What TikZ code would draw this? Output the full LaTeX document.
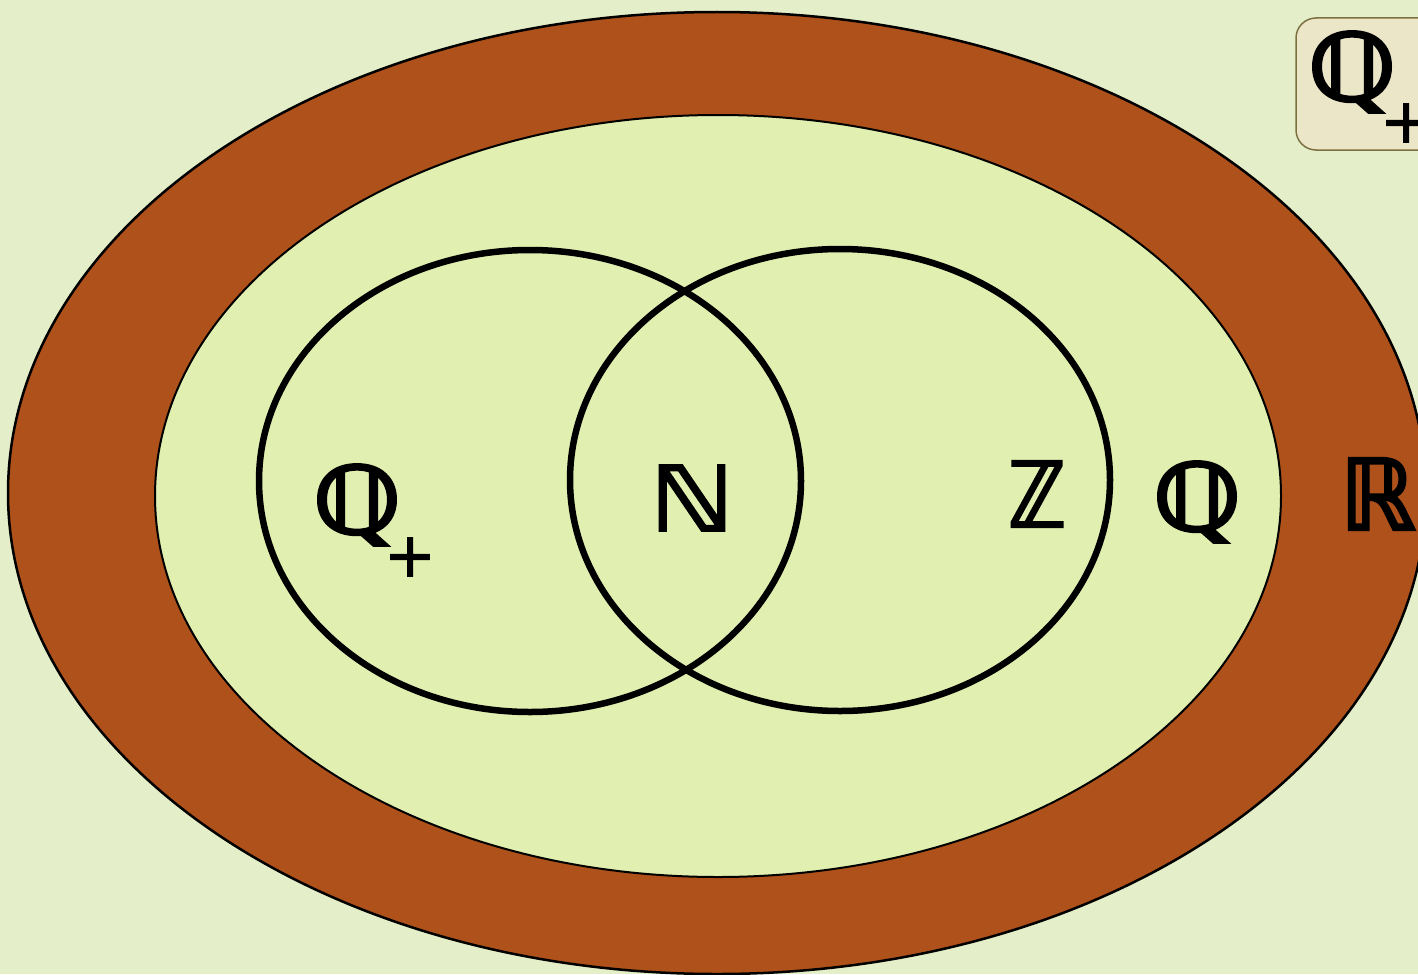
\documentclass[tikz,border=0pt]{standalone}
\usepackage{fontspec}
\usepackage{graphicx}
\setmainfont{DejaVu Sans}
\newfontfamily\bbfont[FakeBold=3]{DejaVu Sans}
\newfontfamily\plusfont[FakeBold=1.5]{DejaVu Sans}
\definecolor{bgc}{RGB}{228,239,201}
\definecolor{innerc}{RGB}{225,240,176}
\definecolor{brownc}{RGB}{175,81,27}
\definecolor{boxfill}{RGB}{236,230,200}
\definecolor{boxdraw}{RGB}{125,112,64}
\newcommand{\symQ}{\fontsize{93}{96}\selectfont\scalebox{1.22}[1]{ℚ}}
\newcommand{\symN}{\fontsize{89}{92}\selectfont\scalebox{1.18}[1]{ℕ}}
\newcommand{\symZ}{\fontsize{90}{92}\selectfont\scalebox{0.86}[1]{ℤ}}
\newcommand{\symR}{\fontsize{98}{100}\selectfont\scalebox{0.98}[1]{ℝ}}
\tikzset{
  bigsym/.style={font=\bbfont, inner sep=0pt, anchor=center},
  plussym/.style={font=\plusfont\fontsize{62}{64}\selectfont, inner sep=0pt, anchor=center},
  venn/.style={draw=black, line width=6.5pt},
}
\begin{document}
\begin{tikzpicture}[x=1pt,y=-1pt]
\path[use as bounding box, fill=bgc] (0,0) rectangle (1418,974);
\begin{scope}
\clip (0,0) rectangle (1418,974);
% outer ellipse (R)
\path[fill=brownc, draw=black, line width=2.5pt] (717,493) ellipse [x radius=709, y radius=481];
% inner ellipse (Q)
\path[fill=innerc, draw=black, line width=2pt] (718,496) ellipse [x radius=563, y radius=381];
% Venn ellipses
\draw[venn] (530,481) ellipse [x radius=271, y radius=231];
\draw[venn] (840,480) ellipse [x radius=270, y radius=231];
% labels
\node[bigsym] (qp) at (357,505) {\symQ};
\node[plussym] (qpplus) at (410,557) {+};
\node[bigsym] (n) at (692,498) {\symN};
\node[bigsym] (z) at (1037,494) {\symZ};
\node[bigsym] (q) at (1197,502) {\symQ};
\node[bigsym] (r) at (1378,494) {\symR};
% legend box
\path[fill=boxfill, draw=boxdraw, line width=1.5pt, rounded corners=20pt] (1296,18) rectangle (1470,150);
\node[bigsym] (lq) at (1352,72) {\symQ};
\node[plussym] (lplus) at (1406,123) {+};
\end{scope}
\end{tikzpicture}
\end{document}
